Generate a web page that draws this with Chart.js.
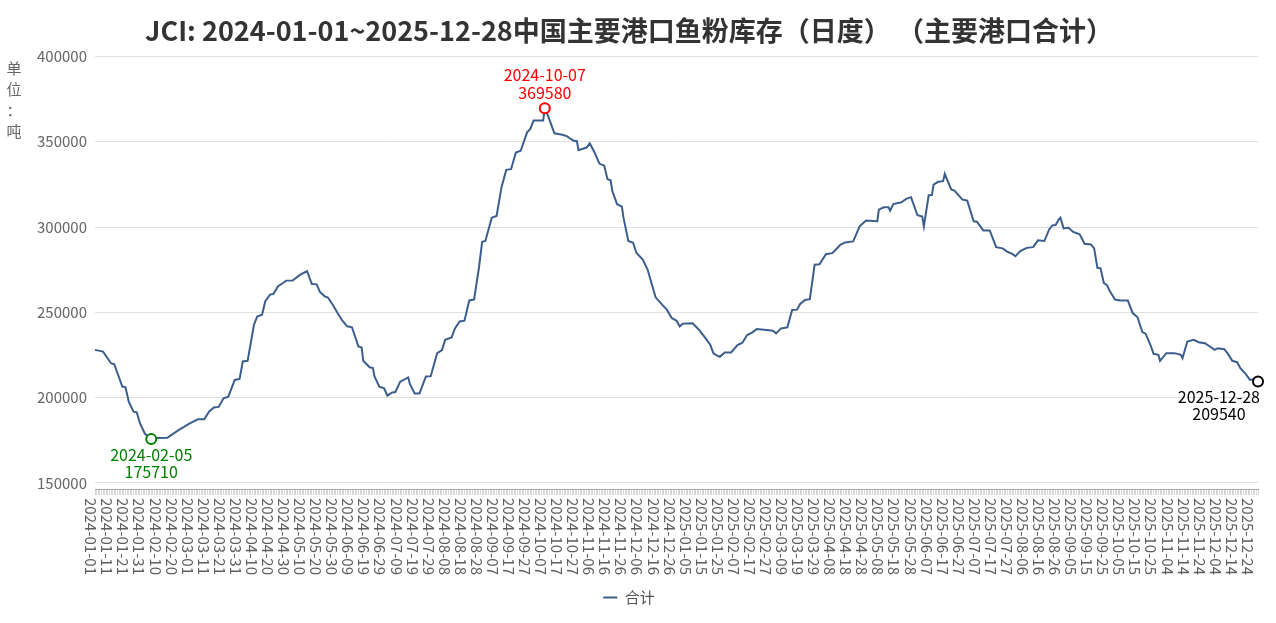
<!DOCTYPE html>
<html lang="zh">
<head>
<meta charset="UTF-8">
<title>中国主要港口鱼粉库存</title>
<script src="https://cdn.jsdelivr.net/npm/chart.js"></script>
<style>
  html, body { margin: 0; padding: 0; background: #fff; }
  #wrap { width: 1276px; height: 623px; }
</style>
</head>
<body>
<div id="wrap"><canvas id="chart"></canvas></div>
<script>
// 日度数据，2025 春节三天无数据
const skipDays = ['2025-01-29', '2025-01-30', '2025-01-31'];

// 读图取点（合计，吨）
const dates = [
  '2024-01-01','2024-01-06','2024-01-11','2024-01-13','2024-01-18','2024-01-20','2024-01-22','2024-01-25','2024-01-27','2024-01-29',
  '2024-02-01','2024-02-05','2024-02-09','2024-02-15','2024-02-22','2024-02-29','2024-03-05','2024-03-09','2024-03-12','2024-03-15',
  '2024-03-18','2024-03-21','2024-03-24','2024-03-28','2024-03-31','2024-04-02','2024-04-05','2024-04-09','2024-04-11','2024-04-14',
  '2024-04-16','2024-04-19','2024-04-21','2024-04-24','2024-04-27','2024-04-29','2024-05-03','2024-05-08','2024-05-12','2024-05-15',
  '2024-05-18','2024-05-20','2024-05-23','2024-05-25','2024-05-28','2024-05-31','2024-06-03','2024-06-06','2024-06-09','2024-06-13',
  '2024-06-15','2024-06-16','2024-06-20','2024-06-22','2024-06-23','2024-06-26','2024-06-29','2024-07-01','2024-07-04','2024-07-06',
  '2024-07-09','2024-07-14','2024-07-15','2024-07-18','2024-07-21','2024-07-25','2024-07-28','2024-08-01','2024-08-04','2024-08-06',
  '2024-08-10','2024-08-12','2024-08-15','2024-08-18','2024-08-21','2024-08-24','2024-08-27','2024-08-29','2024-08-31','2024-09-04',
  '2024-09-07','2024-09-10','2024-09-13','2024-09-16','2024-09-19','2024-09-22','2024-09-26','2024-09-28','2024-09-30','2024-10-06',
  '2024-10-07','2024-10-09','2024-10-13','2024-10-18','2024-10-21','2024-10-22','2024-10-25','2024-10-27','2024-10-28','2024-11-02',
  '2024-11-04','2024-11-07','2024-11-10','2024-11-13','2024-11-15','2024-11-17','2024-11-18','2024-11-21','2024-11-24','2024-11-25',
  '2024-11-28','2024-12-01','2024-12-03','2024-12-07','2024-12-10','2024-12-13','2024-12-15','2024-12-19','2024-12-22','2024-12-25',
  '2024-12-28','2024-12-30','2025-01-01','2025-01-07','2025-01-11','2025-01-15','2025-01-18','2025-01-20','2025-01-22','2025-01-24',
  '2025-01-27','2025-02-03','2025-02-07','2025-02-10','2025-02-13','2025-02-16','2025-02-19','2025-02-25','2025-03-01','2025-03-03',
  '2025-03-06','2025-03-10','2025-03-13','2025-03-16','2025-03-18','2025-03-21','2025-03-24','2025-03-27','2025-03-30','2025-04-03',
  '2025-04-07','2025-04-10','2025-04-12','2025-04-15','2025-04-20','2025-04-24','2025-04-28','2025-05-05','2025-05-06','2025-05-09',
  '2025-05-12','2025-05-13','2025-05-15','2025-05-20','2025-05-23','2025-05-26','2025-05-30','2025-06-02','2025-06-03','2025-06-06',
  '2025-06-08','2025-06-09','2025-06-12','2025-06-15','2025-06-16','2025-06-20','2025-06-22','2025-06-27','2025-06-30','2025-07-04',
  '2025-07-06','2025-07-10','2025-07-14','2025-07-18','2025-07-22','2025-07-25','2025-07-28','2025-07-30','2025-08-02','2025-08-06',
  '2025-08-10','2025-08-13','2025-08-17','2025-08-20','2025-08-22','2025-08-24','2025-08-26','2025-08-27','2025-08-29','2025-09-01',
  '2025-09-04','2025-09-08','2025-09-11','2025-09-15','2025-09-17','2025-09-19','2025-09-21','2025-09-23','2025-09-25','2025-09-27',
  '2025-09-30','2025-10-03','2025-10-08','2025-10-11','2025-10-14','2025-10-17','2025-10-19','2025-10-22','2025-10-24','2025-10-27',
  '2025-10-28','2025-11-01','2025-11-06','2025-11-10','2025-11-11','2025-11-14','2025-11-18','2025-11-21','2025-11-25','2025-11-28',
  '2025-12-01','2025-12-03','2025-12-07','2025-12-09','2025-12-12','2025-12-15','2025-12-17','2025-12-20','2025-12-23','2025-12-25',
  '2025-12-28'
];
const stock = [
  228000,227000,220200,219600,206500,206100,197700,191800,191400,184900,
  179000,175710,176300,176500,181000,184900,187300,187300,191800,194300,
  194600,199600,200600,210400,211000,221200,221600,242800,247600,248600,
  256500,260400,260700,265300,267200,268600,268700,272200,274100,266600,
  266400,262000,259400,258700,254500,249600,245100,241800,241200,230000,
  229400,221600,217800,217300,212400,206500,205500,201200,203100,203300,
  209400,211900,208000,202500,202500,212400,212600,226100,227900,233900,
  235300,240400,244700,245100,257000,257600,276000,291300,291800,305500,
  306500,323100,333500,333900,343700,344700,355500,357500,362400,362400,
  369580,365300,354900,354100,353200,352300,350600,350300,345100,346600,
  349000,343700,337200,336000,328100,327400,321200,313400,312000,305500,
  291800,290800,284900,281000,275100,265300,258800,254500,251600,246700,
  245100,241800,243400,243600,239800,234900,231000,226000,224800,224000,
  226500,226500,230800,232200,236700,238100,240200,239600,239200,237700,
  240600,241200,251400,251600,254900,257300,257700,277900,278200,284100,
  284700,287600,289600,291000,291600,300400,303800,303400,310200,311600,
  311600,309600,313500,314500,316500,317500,306900,306100,300400,318600,
  318700,324900,326500,326900,331200,322000,321400,316100,315500,303400,
  303100,298000,298000,288200,287500,285500,284300,282900,285900,287800,
  288200,292200,291800,298600,301000,301200,304500,305500,299200,299600,
  297100,295700,290200,289800,287500,276100,275800,267200,265900,262000,
  257500,256900,256900,249600,247100,238400,237500,231000,225700,225100,
  221600,226100,226100,225100,223100,232900,233900,232500,231900,230000,
  228000,229000,228400,226100,221600,220800,217300,214300,210400,210800,
  209540
];

// 标注：最低、最高、最新
const markDates = ['2024-02-05', '2024-10-07', '2025-12-28'];
const markValues = [175710, 369580, 209540];
const markColors = ['#008000', '#ff0000', '#000000'];
const markSide = ['below', 'above', 'below'];

const yTicks = [150000, 200000, 250000, 300000, 350000, 400000];
const unitText = ['单', '位', '：', '吨'];

function buildLabels() {
  const out = [];
  const d = new Date(Date.UTC(2024, 0, 1));
  const end = Date.UTC(2025, 11, 28);
  while (d.getTime() <= end) {
    const s = d.toISOString().slice(0, 10);
    if (!skipDays.includes(s)) out.push(s);
    d.setUTCDate(d.getUTCDate() + 1);
  }
  return out;
}
const labels = buildLabels();

const FONT = '"Noto Sans CJK SC", "Noto Sans", sans-serif';

// x 轴标签顺时针竖排（Chart.js 只会逆时针转），自己画
const xLabelPlugin = {
  id: 'xLabels',
  afterDraw(chart) {
    const ctx = chart.ctx;
    const xs = chart.scales.x;
    ctx.save();
    ctx.font = '15px ' + FONT;
    ctx.fillStyle = '#5e5e5e';
    ctx.textAlign = 'left';
    ctx.textBaseline = 'middle';
    for (let i = 0; i < labels.length; i += 10) {
      const x = xs.getPixelForTick(i) - 4;
      ctx.save();
      ctx.translate(x, xs.top + 8);
      ctx.rotate(Math.PI / 2);
      ctx.fillText(labels[i], 0, 0);
      ctx.restore();
    }
    ctx.restore();
  }
};

const unitPlugin = {
  id: 'unit',
  afterDraw(chart) {
    const ctx = chart.ctx;
    ctx.save();
    ctx.font = '15px ' + FONT;
    ctx.fillStyle = '#666';
    ctx.textAlign = 'center';
    ctx.textBaseline = 'middle';
    unitText.forEach((c, i) => ctx.fillText(c, 14, 68 + i * 21));
    ctx.restore();
  }
};

const markPlugin = {
  id: 'marks',
  afterDatasetsDraw(chart) {
    const ctx = chart.ctx;
    const xs = chart.scales.x, ys = chart.scales.y;
    ctx.save();
    ctx.font = '16px ' + FONT;
    ctx.textAlign = 'center';
    ctx.textBaseline = 'middle';
    markDates.forEach((d, i) => {
      const px = xs.getPixelForValue(labels.indexOf(d));
      const py = ys.getPixelForValue(markValues[i]);
      ctx.beginPath();
      ctx.arc(px, py, 5, 0, Math.PI * 2);
      ctx.fillStyle = '#fff';
      ctx.fill();
      ctx.lineWidth = 2;
      ctx.strokeStyle = markColors[i];
      ctx.stroke();

      const line2 = String(markValues[i]);
      const w = Math.max(ctx.measureText(d).width, ctx.measureText(line2).width);
      const tx = Math.min(px, chart.width - 16 - w / 2);
      ctx.fillStyle = markColors[i];
      if (markSide[i] === 'above') {
        ctx.fillText(d, tx, py - 33);
        ctx.fillText(line2, tx, py - 15);
      } else {
        ctx.fillText(d, tx, py + 16);
        ctx.fillText(line2, tx, py + 33);
      }
    });
    ctx.restore();
  }
};

new Chart(document.getElementById('chart'), {
  type: 'line',
  data: {
    labels: labels,
    datasets: [{
      label: '合计',
      data: dates.map((d, i) => ({ x: d, y: stock[i] })),
      borderColor: '#3b5e8c',
      backgroundColor: '#3b5e8c',
      borderWidth: 2,
      pointRadius: 0,
      tension: 0,
      fill: false
    }]
  },
  options: {
    responsive: true,
    maintainAspectRatio: false,
    animation: false,
    layout: { padding: { left: 0, right: 18, bottom: 8 } },
    plugins: {
      title: {
        display: true,
        text: 'JCI: 2024-01-01~2025-12-28中国主要港口鱼粉库存（日度） （主要港口合计）',
        font: { family: FONT, size: 27, weight: 'bold' },
        color: '#333',
        padding: { top: 15, bottom: 9 }
      },
      legend: {
        position: 'bottom',
        labels: {
          font: { family: FONT, size: 15 },
          color: '#555',
          usePointStyle: true,
          pointStyle: 'line',
          pointStyleWidth: 14,
          padding: 10
        }
      },
      tooltip: { enabled: false }
    },
    scales: {
      x: {
        type: 'category',
        grid: { display: true, drawOnChartArea: false, drawTicks: true, tickLength: 5, color: '#d6d6d6' },
        border: { display: true, color: '#aaa' },
        afterFit: (s) => { s.paddingRight = 0; s.paddingLeft = 0; },
        ticks: {
          autoSkip: false,
          minRotation: 90,
          maxRotation: 90,
          padding: 4,
          color: 'rgba(0,0,0,0)',
          font: { family: FONT, size: 15 },
          callback: (v, i) => (i % 10 === 0 ? labels[i] : '')
        }
      },
      y: {
        min: 145900,
        max: 400000,
        afterBuildTicks: (s) => { s.ticks = yTicks.map(v => ({ value: v })); },
        afterFit: (s) => { s.width = 95; },
        grid: { color: '#e0e0e0', drawTicks: false },
        border: { display: false },
        ticks: {
          padding: 8,
          color: '#666',
          font: { family: FONT, size: 15 },
          callback: (v) => String(v)
        }
      }
    }
  },
  plugins: [xLabelPlugin, unitPlugin, markPlugin]
});
</script>
</body>
</html>
